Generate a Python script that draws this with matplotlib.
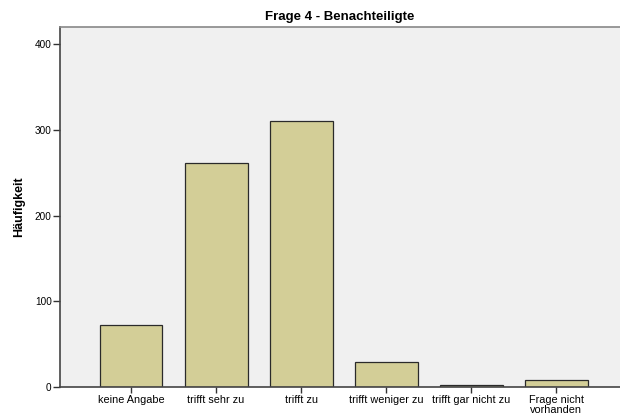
import matplotlib
matplotlib.use("Agg")
import matplotlib.pyplot as plt

categories = ["keine Angabe", "trifft sehr zu", "trifft zu", "trifft weniger zu",
              "trifft gar nicht zu", "Frage nicht\nvorhanden"]
counts = [72, 261, 310, 29, 2, 8]
yticks = [0, 100, 200, 300, 400]

plt.rcParams['font.family'] = ['Liberation Sans', 'DejaVu Sans']

fig = plt.figure(figsize=(6.2, 4.17), dpi=100)
ax = fig.add_axes([60/620, 1-387/417, 1-60/620, (387-27)/417])
ax.set_facecolor('#F0F0F0')

x = list(range(len(categories)))
ax.bar(x, counts, width=0.74, color='#D3CE97', edgecolor='#2a2a2a', linewidth=0.9, zorder=2)

ax.set_xlim(-0.835, 5.75)
ax.set_ylim(0, 420)
ax.set_yticks(yticks)
ax.set_xticks(x)
ax.set_xticklabels(categories, fontsize=7.8, linespacing=1.0)
ax.tick_params(axis='y', labelsize=7.2, length=5, width=1, color='#333333', pad=1)
ax.tick_params(axis='x', length=4, width=1, color='#333333', pad=2)

for s in ['left', 'bottom']:
    ax.spines[s].set_color('#444444')
    ax.spines[s].set_linewidth(1.2)
ax.spines['top'].set_color('#888888')
ax.spines['top'].set_linewidth(1.2)
ax.spines['right'].set_visible(False)

ax.set_ylabel('Häufigkeit', fontsize=9, fontweight='bold', labelpad=7)
ax.set_title('Frage 4 - Benachteiligte', fontsize=9.5, fontweight='bold', pad=5)

fig.savefig('out.png', dpi=100)
